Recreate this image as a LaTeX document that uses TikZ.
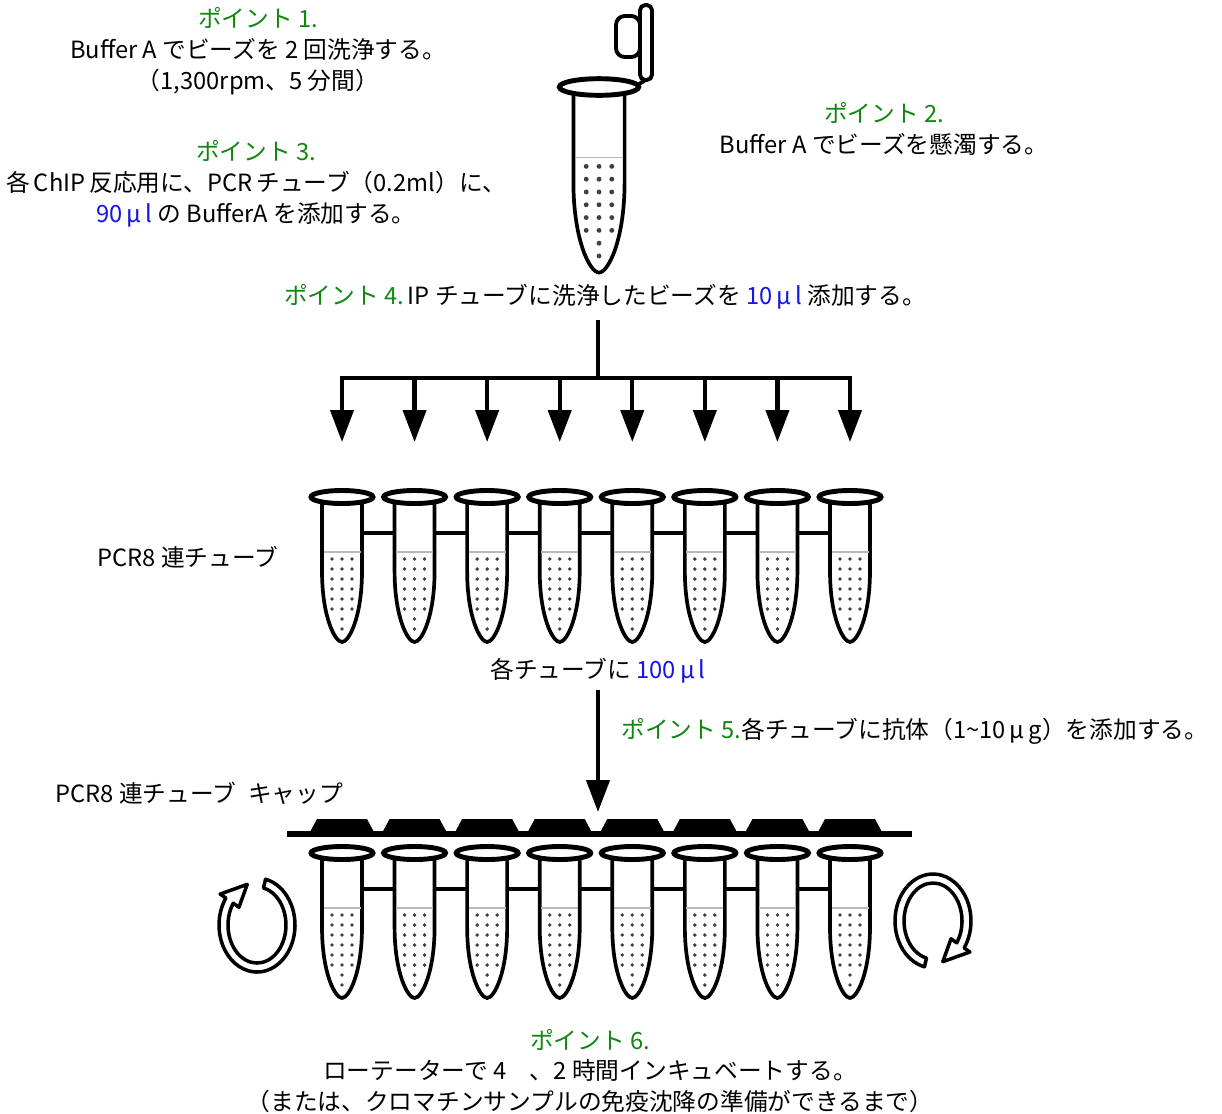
\documentclass[tikz,border=0pt]{standalone}
\usepackage{fontspec}
\setmainfont{Noto Sans CJK JP}
\usepackage{tikz}
\definecolor{pointgreen}{RGB}{16,136,16}
\definecolor{volblue}{RGB}{20,20,235}
\tikzset{
    note/.style={font=\fontsize{13.5pt}{17.6pt}\selectfont, inner sep=0pt, align=center},
    trunk/.style={line width=2.4pt},
    flow/.style={trunk, -{Triangle[length=0.64cm, width=0.46cm]}},
    wall/.style={line width=2.1pt, fill=white},
    lip/.style={line width=2.8pt, fill=white},
    ring/.style={line width=2pt, fill=white, line join=round},
    pics/tube/.style={code={
        \draw[wall] (-20,4) -- (-20,74) .. controls (-20,120) and (-7,145) .. (0,145)
                    .. controls (7,145) and (20,120) .. (20,74) -- (20,4);
        \draw[gray!55, line width=1pt] (-18.5,55) -- (18.5,55);
        \foreach \r in {0,...,5}
            \foreach \c in {-10,0,10}
                \fill[black!75] (\c,62+10*\r) circle (1.9);
        \fill[black!75] (0,122) circle (1.9) (0,132) circle (1.9);
        \draw[lip] (0,0) ellipse (31 and 6.5);
    }} }
\usetikzlibrary{arrows.meta, calc, positioning}
\newcommand{\vol}[1]{\textcolor{volblue}{#1}}
\newcommand{\pt}[1]{\textcolor{pointgreen}{#1}}

\begin{document}
\begin{tikzpicture}[x=0.02cm, y=-0.02cm]
    \useasboundingbox (0,0) rectangle (1222,1113);
    % ---- texts
    \node[note] (step1) at (258,51) {\pt{ポイント 1.}\\Buffer A でビーズを 2 回洗浄する。\\（1,300rpm、5 分間）};
    \node[note] (step3) at (256,184) {\pt{ポイント 3.}\\各\,ChIP\,反応用に、PCR\,チューブ（0.2ml）に、\\\vol{90\,μ\,l} の BufferA を添加する。};
    \node[note] (step2) at (884,129) {\pt{ポイント 2.}\\Buffer A でビーズを懸濁する。};
    \node[note] (step4) at (605,297) {\pt{ポイント 4.}\,IP チューブに洗浄したビーズを \vol{10\,μ\,l} 添加する。};
    \node[note, anchor=west] (strip) at (97,557) {PCR8 連チューブ};
    \node[note] (each) at (598,671) {各チューブに \vol{100\,μ\,l}};
    \node[note, anchor=west] (step5) at (621,731) {\pt{ポイント 5.}各チューブに抗体（1\textasciitilde 10\,μ\,g）を添加する。};
    \node[note, anchor=west] (caps) at (55,793) {PCR8 連チューブ\enspace キャップ};
    \node[note] (step6) at (590,1071) {\pt{ポイント 6.}\\ローテーターで 4\quad 、2 時間インキュベートする。\\（または、クロマチンサンプルの免疫沈降の準備ができるまで）};

    % ---- single tube with open lid
    \pic[scale=1.28] at (599,87) {tube};
    \draw[line width=2.2pt] (636,86) -- (647,79);
    \draw[line width=2.2pt, rounded corners=3pt, fill=white] (640,5) rectangle (652,80);
    \draw[line width=2.2pt, rounded corners=5pt, fill=white] (616,16) rectangle (640,57);

    % ---- fan out to the strip
    \coordinate (stem) at (598,320);
    \coordinate (hub) at (598,378);
    \foreach \i in {0,...,7} {
        \coordinate (f\i) at ({342+72.57*\i},378);
        \coordinate (a\i) at ({342+72.57*\i},442);
        \coordinate (s\i) at ({342+72.57*\i},497);
        \coordinate (b\i) at ({342+72.57*\i},853);
    }
    \draw[trunk] (stem) -- (hub);
    \draw[trunk, line cap=rect] (f0) -- (f7);
    \foreach \i in {0,...,7}
        \draw[flow] (f\i) -- (a\i);

    % ---- 8-tube strip
    \draw[wall] ($(s0)+(0,36)$) -- ($(s7)+(0,36)$);
    \foreach \i in {0,...,7}
        \pic at (s\i) {tube};

    % ---- antibody, then capped strip
    \coordinate (drop) at (598,690);
    \coordinate (lid) at (598,812);
    \draw[flow] (drop) -- (lid);
    \fill (287,831) rectangle (912,837);
    \foreach \i in {0,...,7}
        \fill ({310+72.57*\i},832) -- ({317+72.57*\i},819) -- ({367+72.57*\i},819) -- ({374+72.57*\i},832) -- cycle;
    \draw[wall] ($(b0)+(0,36)$) -- ($(b7)+(0,36)$);
    \foreach \i in {0,...,7}
        \pic at (b\i) {tube};

    % ---- rotation arrows
    \foreach \name/\cx/\cy/\a in {rotl/257/925/-77, rotr/933/921/103} {
        \coordinate (\name) at (\cx,\cy);
        \draw[ring] ($(\name)+(\a:38 and 47)$)
            arc[start angle=\a, delta angle=292, x radius=38, y radius=47]
            -- ($(\name)+(\a+292:45 and 54)$) -- ($(\name)+(\a+330:33.5 and 42.5)$)
            -- ($(\name)+(\a+292:22 and 31)$) -- ($(\name)+(\a+292:29 and 38)$)
            arc[start angle=\a+292, delta angle=-292, x radius=29, y radius=38] -- cycle;
    }
\end{tikzpicture}
\end{document}
